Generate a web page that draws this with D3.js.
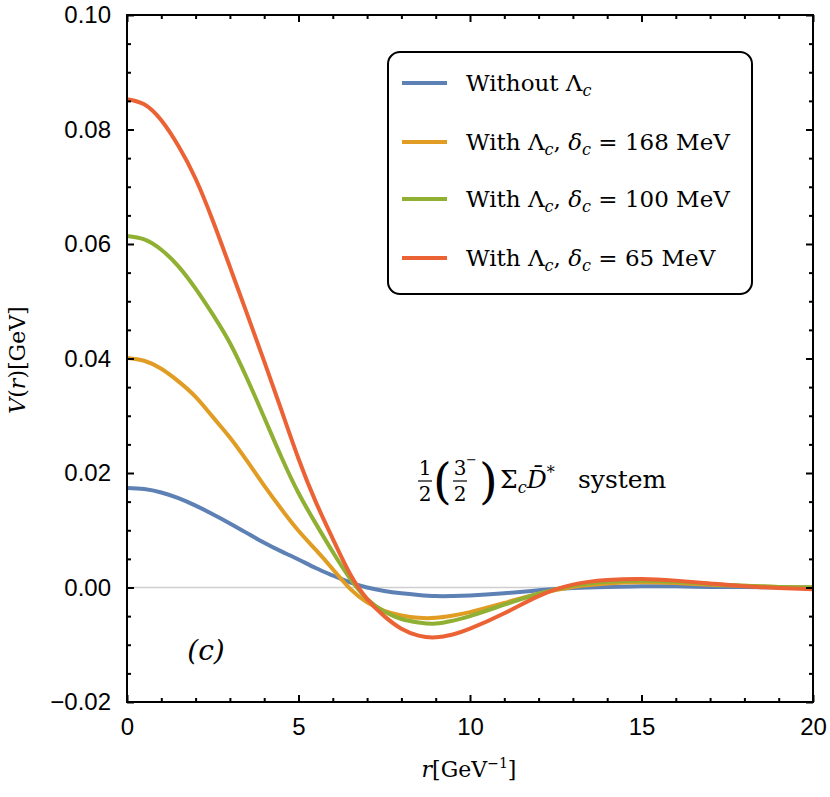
<!DOCTYPE html>
<html>
<meta charset="utf-8">
<head>
<style>
body { margin: 0; background: #fff; }
.tick-label { font-family: "Liberation Sans", Arial, sans-serif; font-size: 24px; fill: #000; }
.math { font-family: "DejaVu Serif", "Liberation Serif", serif; fill: #000; }
.curve { fill: none; stroke-width: 4px; stroke-linejoin: round; }
</style>
</head>
<body>
<script src="https://d3js.org/d3.v7.min.js"></script>
<script>

// r in GeV^-1
var rValues = [0, 0.5, 1, 1.5, 2, 2.5, 3, 3.5, 4, 4.5, 5, 5.5, 6, 6.5, 7, 7.5, 8, 8.5, 9, 9.5, 10, 11, 12, 13, 14, 15, 16, 17, 18, 19, 20];

// V(r) in GeV
var withoutLc = [0.0174, 0.0172, 0.0166, 0.0156, 0.0143, 0.0128, 0.0112, 0.0095, 0.0078, 0.0063, 0.0049, 0.0034, 0.0021, 0.0009, 0.0000, -0.0006, -0.0010, -0.0013, -0.0015, -0.0015, -0.0014, -0.0010, -0.0005, -0.0001, 0.0001, 0.0002, 0.0002, 0.0001, 0.0001, 0.0000, 0.0000];
var delta168 = [0.0401, 0.0396, 0.0382, 0.0360, 0.0333, 0.0298, 0.0262, 0.0221, 0.0178, 0.0137, 0.0099, 0.0066, 0.0032, -0.0002, -0.0026, -0.0041, -0.0049, -0.0053, -0.0053, -0.0049, -0.0043, -0.0027, -0.0011, 0.0001, 0.0007, 0.0009, 0.0008, 0.0005, 0.0003, 0.0001, 0.0000];
var delta100 = [0.0614, 0.0608, 0.0590, 0.0561, 0.0522, 0.0477, 0.0427, 0.0365, 0.0297, 0.0228, 0.0165, 0.0112, 0.0062, 0.0016, -0.0020, -0.0042, -0.0055, -0.0061, -0.0063, -0.0058, -0.0050, -0.0030, -0.0011, 0.0003, 0.0010, 0.0012, 0.0010, 0.0006, 0.0003, 0.0001, 0.0000];
var delta65 = [0.0853, 0.0844, 0.0816, 0.0771, 0.0714, 0.0641, 0.0560, 0.0478, 0.0395, 0.0310, 0.0225, 0.0150, 0.0085, 0.0024, -0.0020, -0.0050, -0.0072, -0.0084, -0.0087, -0.0082, -0.0072, -0.0045, -0.0015, 0.0005, 0.0013, 0.0015, 0.0012, 0.0007, 0.0002, -0.0001, -0.0003];

var xTicks = [0, 5, 10, 15, 20];
var yTicks = [-0.02, 0.00, 0.02, 0.04, 0.06, 0.08, 0.10];

var series = [
  { values: withoutLc, color: "#5E81B5" },
  { values: delta168, color: "#E19C24" },
  { values: delta100, color: "#8FB032" },
  { values: delta65, color: "#EB6235" }
];

var margin = {top: 15, right: 17, bottom: 95, left: 127},
    width = 830 - margin.left - margin.right,
    height = 797 - margin.top - margin.bottom;

var root = d3.select("body").append("svg")
    .attr("width", 830)
    .attr("height", 797);
var svg = root.append("g")
    .attr("transform", "translate(" + margin.left + "," + margin.top + ")");

var x = d3.scaleLinear().domain([0, 20]).range([0, width]);
var y = d3.scaleLinear().domain([-0.02, 0.10]).range([height, 0]);

svg.append("clipPath").attr("id", "clip")
  .append("rect").attr("width", width).attr("height", height);

// zero line
svg.append("line")
    .attr("x1", 0).attr("x2", width)
    .attr("y1", y(0)).attr("y2", y(0))
    .style("stroke", "#cfcfcf")
    .style("stroke-width", 1.5);

var line = d3.line()
    .x(function(d) { return x(d[0]); })
    .y(function(d) { return y(d[1]); })
    .curve(d3.curveNatural);

svg.append("g").attr("clip-path", "url(#clip)")
  .selectAll(".curve")
  .data(series).enter()
  .append("path")
    .attr("class", "curve")
    .style("stroke", function(d) { return d.color; })
    .attr("d", function(d) { return line(rValues.map(function(r, i) { return [r, d.values[i]]; })); });

// axes: ticks point inwards on all four sides
var xMinor = d3.range(0, 21, 1).filter(function(v) { return v % 5 !== 0; });
var yMinor = d3.range(-0.02, 0.1001, 0.005).filter(function(v) { return Math.abs(Math.round(v * 1000) % 20) > 0.5; });

function styleAxis(g) {
  g.select(".domain").remove();
  g.selectAll(".tick line").style("stroke", "#000").style("stroke-width", 2);
  g.selectAll(".tick text").attr("class", "tick-label").attr("fill", null);
}

svg.append("g").attr("transform", "translate(0," + height + ")")
  .call(d3.axisBottom(x).tickValues(xTicks).tickSize(-7).tickPadding(16).tickFormat(d3.format("d")))
  .call(styleAxis);
svg.append("g").attr("transform", "translate(0," + height + ")")
  .call(d3.axisBottom(x).tickValues(xMinor).tickSize(-4).tickFormat(""))
  .call(styleAxis);
svg.append("g")
  .call(d3.axisTop(x).tickValues(xTicks).tickSize(-7).tickFormat(""))
  .call(styleAxis);
svg.append("g")
  .call(d3.axisTop(x).tickValues(xMinor).tickSize(-4).tickFormat(""))
  .call(styleAxis);

svg.append("g")
  .call(d3.axisLeft(y).tickValues(yTicks).tickSize(-7).tickPadding(16)
    .tickFormat(function(d) { return d3.format(".2f")(d).replace("-", "\u2212"); }))
  .call(styleAxis);
svg.append("g")
  .call(d3.axisLeft(y).tickValues(yMinor).tickSize(-4).tickFormat(""))
  .call(styleAxis);
svg.append("g").attr("transform", "translate(" + width + ",0)")
  .call(d3.axisRight(y).tickValues(yTicks).tickSize(-7).tickFormat(""))
  .call(styleAxis);
svg.append("g").attr("transform", "translate(" + width + ",0)")
  .call(d3.axisRight(y).tickValues(yMinor).tickSize(-4).tickFormat(""))
  .call(styleAxis);

// frame
svg.append("rect")
    .attr("width", width).attr("height", height)
    .style("fill", "none").style("stroke", "#000").style("stroke-width", 2);

// axis titles (page coordinates from here on)
var xt = root.append("text").attr("class", "math")
    .attr("x", 469).attr("y", 777)
    .style("text-anchor", "middle").style("font-size", "22px");
xt.append("tspan").style("font-style", "italic").text("r");
xt.append("tspan").text("[GeV");
xt.append("tspan").attr("dy", -9).style("font-size", "14px").text("\u22121");
xt.append("tspan").attr("dy", 9).text("]");

var yt = root.append("text").attr("class", "math")
    .attr("transform", "translate(25,360) rotate(-90)")
    .style("text-anchor", "middle").style("font-size", "22px");
yt.append("tspan").style("font-style", "italic").text("V");
yt.append("tspan").text("(");
yt.append("tspan").style("font-style", "italic").text("r");
yt.append("tspan").text(")[GeV]");

// legend
var legend = root.append("g").attr("transform", "translate(388,52)");
legend.append("rect")
    .attr("width", 364).attr("height", 242)
    .attr("rx", 12).attr("ry", 12)
    .style("fill", "#fff").style("stroke", "#000").style("stroke-width", 2);

var legendRows = [
  [["Without \u039B", ""], ["c", "sub"]],
  [["With \u039B", ""], ["c", "sub"], [", ", ""], ["\u03B4", "it"], ["c", "sub"], [" = 168 MeV", ""]],
  [["With \u039B", ""], ["c", "sub"], [", ", ""], ["\u03B4", "it"], ["c", "sub"], [" = 100 MeV", ""]],
  [["With \u039B", ""], ["c", "sub"], [", ", ""], ["\u03B4", "it"], ["c", "sub"], [" = 65 MeV", ""]]
];
var rowY = [31, 90, 147, 206];

legendRows.forEach(function(row, i) {
  legend.append("line")
    .attr("x1", 14).attr("x2", 59)
    .attr("y1", rowY[i]).attr("y2", rowY[i])
    .style("stroke", series[i].color).style("stroke-width", 4);
  var t = legend.append("text").attr("class", "math")
    .attr("x", 78).attr("y", rowY[i] + 8)
    .style("font-size", "23px");
  var shift = 0;
  row.forEach(function(p) {
    var ts = t.append("tspan").text(p[0]);
    if (p[1] === "sub") {
      ts.attr("dy", 5 - shift).style("font-size", "16px").style("font-style", "italic");
      shift = 5;
    } else {
      ts.attr("dy", -shift);
      shift = 0;
      if (p[1] === "it") ts.style("font-style", "italic");
    }
  });
});

// system annotation
var ann = root.append("g");
function annText(tx, ty, size, str, anchor) {
  return ann.append("text").attr("class", "math")
    .attr("x", tx).attr("y", ty)
    .style("font-size", size + "px")
    .style("text-anchor", anchor || "start")
    .text(str);
}
function annBar(x1, x2, yy) {
  ann.append("line").attr("x1", x1).attr("x2", x2).attr("y1", yy).attr("y2", yy)
    .style("stroke", "#000").style("stroke-width", 1.2);
}
annText(425, 475, 20, "1", "middle");
annBar(418, 432, 481);
annText(425, 501, 20, "2", "middle");
annText(433, 498, 48, "(");
annText(460, 475, 20, "3", "middle");
annText(466, 464, 13, "\u2212");
annBar(453, 467, 481);
annText(460, 501, 20, "2", "middle");
annText(479, 498, 48, ")");
var sys = annText(500, 488, 25, "");
sys.append("tspan").text("\u03A3");
sys.append("tspan").attr("dy", 5).style("font-size", "16px").style("font-style", "italic").text("c");
sys.append("tspan").attr("dy", -5).style("font-style", "italic").text("D\u0304");
sys.append("tspan").attr("dy", -10).style("font-size", "16px").text("*");
annText(578, 488, 25, "system");

// panel label
root.append("text").attr("class", "math")
    .attr("x", 206).attr("y", 660)
    .style("text-anchor", "middle").style("font-size", "28px").style("font-style", "italic")
    .text("(c)");

</script>
</body>
</html>
